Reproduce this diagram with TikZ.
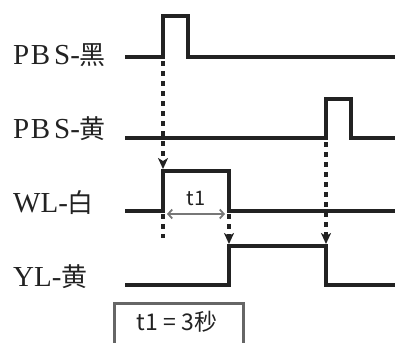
\documentclass[tikz,border=0pt]{standalone}
\usepackage{fontspec}
\setmainfont{Liberation Serif}
\newfontfamily\cjk{Noto Sans CJK SC}
\usetikzlibrary{arrows.meta}
\definecolor{ink}{HTML}{222222}
\definecolor{dimgray}{HTML}{777777}
\definecolor{boxgray}{HTML}{666666}
\begin{document}
\begin{tikzpicture}[x=1pt,y=-1pt,
  sig/.style={draw=ink, line width=4.5pt, line join=miter},
  trig/.style={draw=ink, line width=4.5pt, dash pattern=on 5pt off 5pt},
  trigarrow/.style={trig, -{Stealth[length=11pt,width=10pt,inset=3pt]}},
  lbl/.style={anchor=base west, inner sep=0pt, font=\fontsize{29}{31}\selectfont, text=ink},
  sanslbl/.style={inner sep=0pt, font=\cjk\fontsize{20}{22}\selectfont, text=ink},
  notelbl/.style={inner sep=0pt, font=\cjk\fontsize{23}{25}\selectfont, text=ink},
]
\useasboundingbox (0,0) rectangle (395,342);
% labels
\node[lbl] (lA) at (13,65) {P\kern1.5pt B\kern4pt S-{\cjk\fontsize{26}{28}\selectfont 黑}};
\node[lbl] (lB) at (13,138) {P\kern1.5pt B\kern4pt S-{\cjk\fontsize{26}{28}\selectfont 黄}};
\node[lbl] (lC) at (13,212) {WL-{\cjk\fontsize{26}{28}\selectfont 白}};
\node[lbl] (lD) at (13,286) {YL-{\cjk\fontsize{26}{28}\selectfont 黄}};
% signal coordinates
\coordinate (a0) at (125,57);  \coordinate (a1) at (163,57);
\coordinate (a2) at (163,16);  \coordinate (a3) at (188,16);
\coordinate (a4) at (188,57);  \coordinate (a5) at (396,57);
\coordinate (b0) at (125,138); \coordinate (b1) at (326,138);
\coordinate (b2) at (326,99);  \coordinate (b3) at (351,99);
\coordinate (b4) at (351,138); \coordinate (b5) at (396,138);
\coordinate (c0) at (125,211); \coordinate (c1) at (163,211);
\coordinate (c2) at (163,171); \coordinate (c3) at (229,171);
\coordinate (c4) at (229,211); \coordinate (c5) at (396,211);
\coordinate (d0) at (125,285); \coordinate (d1) at (229,285);
\coordinate (d2) at (229,246); \coordinate (d3) at (326,246);
\coordinate (d4) at (326,285); \coordinate (d5) at (396,285);
\path[sig] (a0) -- (a1) -- (a2) -- (a3) -- (a4) -- (a5);
\path[sig] (b0) -- (b1) -- (b2) -- (b3) -- (b4) -- (b5);
\path[sig] (c0) -- (c1) -- (c2) -- (c3) -- (c4) -- (c5);
\path[sig] (d0) -- (d1) -- (d2) -- (d3) -- (d4) -- (d5);
% trigger arrows
\coordinate (t1s) at (163,61);  \coordinate (t1e) at (163,169);
\coordinate (t1x) at (163,214); \coordinate (t1y) at (163,238);
\coordinate (t2s) at (229,214); \coordinate (t2e) at (229,244);
\coordinate (t3s) at (326,142); \coordinate (t3e) at (326,244);
\path[trigarrow] (t1s) -- (t1e);
\path[trig] (t1x) -- (t1y);
\path[trigarrow] (t2s) -- (t2e);
\path[trigarrow] (t3s) -- (t3e);
% t1 duration
\coordinate (w1) at (167,214); \coordinate (w2) at (225,214);
\draw[dimgray, line width=1.8pt, {Straight Barb[length=4pt,width=9pt]}-{Straight Barb[length=4pt,width=9pt]}] (w1) -- (w2);
\node[sanslbl] (t1lbl) at (196,198) {t1};
% note box
\draw[boxgray, line width=3pt] (114,303) rectangle (243,360);
\node[notelbl] (note) at (177,322) {t1 = 3秒};
\end{tikzpicture}
\end{document}
